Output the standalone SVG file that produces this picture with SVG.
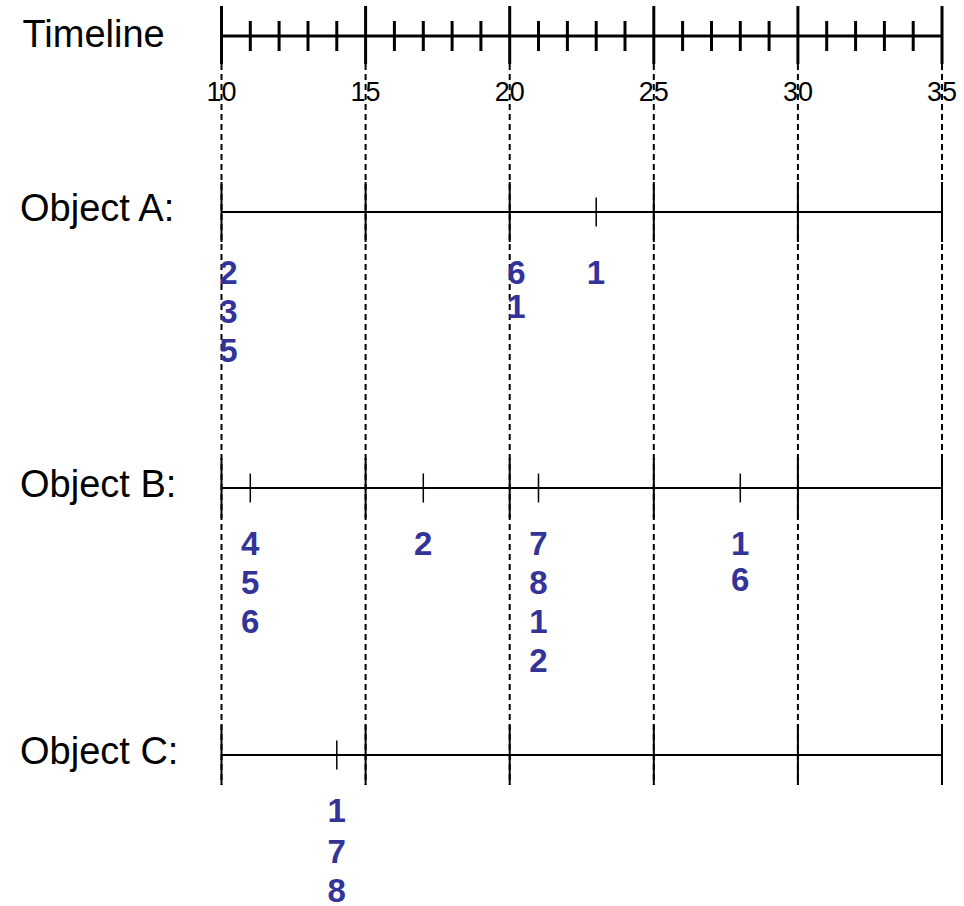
<svg xmlns="http://www.w3.org/2000/svg" width="964" height="906" viewBox="0 0 964 906">
<style>
.lbl{font-family:"Liberation Sans",Arial,sans-serif;font-size:38px;fill:#000}
.num{font-family:"Liberation Sans",Arial,sans-serif;font-size:27px;fill:#000;text-anchor:middle}
.ev{font-family:"Liberation Sans",Arial,sans-serif;font-size:33px;font-weight:bold;fill:#333399;text-anchor:middle}
.tl{stroke:#000;stroke-width:3;fill:none}
.ol{stroke:#000;stroke-width:2;fill:none}
.mt{stroke:#000;stroke-width:1.5;fill:none}
.dash{stroke:#000;stroke-width:2;stroke-dasharray:6 4;fill:none}
</style>
<rect width="964" height="906" fill="#fff"/>
<g id="connectors">
<path class="dash" d="M221.5 64V785M365.6 64V785M509.7 64V785M653.8 64V785M797.9 64V785M942 64V785"/>
</g>
<g id="timeline">
<text class="lbl" x="22.5" y="47">Timeline</text>
<path class="tl" d="M221.5 36H942"/>
<path class="tl" d="M221.5 6V64M365.6 6V64M509.7 6V64M653.8 6V64M797.9 6V64M942 6V64"/>
<path class="tl" d="M250.3 21V51M279.1 21V51M308 21V51M336.8 21V51M394.4 21V51M423.3 21V51M452.1 21V51M480.9 21V51M538.5 21V51M567.4 21V51M596.2 21V51M625 21V51M682.6 21V51M711.5 21V51M740.3 21V51M769.1 21V51M826.7 21V51M855.6 21V51M884.4 21V51M913.2 21V51"/>
<text class="num" x="221.5" y="101">10</text>
<text class="num" x="365.6" y="101">15</text>
<text class="num" x="509.7" y="101">20</text>
<text class="num" x="653.8" y="101">25</text>
<text class="num" x="797.9" y="101">30</text>
<text class="num" x="942" y="101">35</text>
</g>
<g id="objectA">
<text class="lbl" x="20" y="221">Object A:</text>
<path class="ol" d="M221.5 212H942M221.5 182V242M365.6 182V242M509.7 182V242M653.8 182V242M797.9 182V242M942 182V242"/>
<path class="mt" d="M596.2 197.5V226.5"/>
<text class="ev" x="228.5" y="283.5">2</text>
<text class="ev" x="228.5" y="322.5">3</text>
<text class="ev" x="228.5" y="361.5">5</text>
<text class="ev" x="516.5" y="283.5">6</text>
<text class="ev" x="516.5" y="318">1</text>
<text class="ev" x="596" y="283.5">1</text>
</g>
<g id="objectB">
<text class="lbl" x="20" y="497">Object B:</text>
<path class="ol" d="M221.5 488H942M221.5 458V518M365.6 458V518M509.7 458V518M653.8 458V518M797.9 458V518M942 458V518"/>
<path class="mt" d="M250.3 473.5V502.5M423.3 473.5V502.5M538.5 473.5V502.5M740.3 473.5V502.5"/>
<text class="ev" x="250.3" y="555">4</text>
<text class="ev" x="250.3" y="594">5</text>
<text class="ev" x="250.3" y="633">6</text>
<text class="ev" x="423.3" y="555">2</text>
<text class="ev" x="538.5" y="555">7</text>
<text class="ev" x="538.5" y="594">8</text>
<text class="ev" x="538.5" y="633">1</text>
<text class="ev" x="538.5" y="672">2</text>
<text class="ev" x="740.3" y="555">1</text>
<text class="ev" x="740.3" y="591">6</text>
</g>
<g id="objectC">
<text class="lbl" x="20" y="764">Object C:</text>
<path class="ol" d="M221.5 755H942M221.5 725V785M365.6 725V785M509.7 725V785M653.8 725V785M797.9 725V785M942 725V785"/>
<path class="mt" d="M336.8 740.5V769.5"/>
<text class="ev" x="336.8" y="822">1</text>
<text class="ev" x="336.8" y="863">7</text>
<text class="ev" x="336.8" y="901.5">8</text>
</g>
</svg>
